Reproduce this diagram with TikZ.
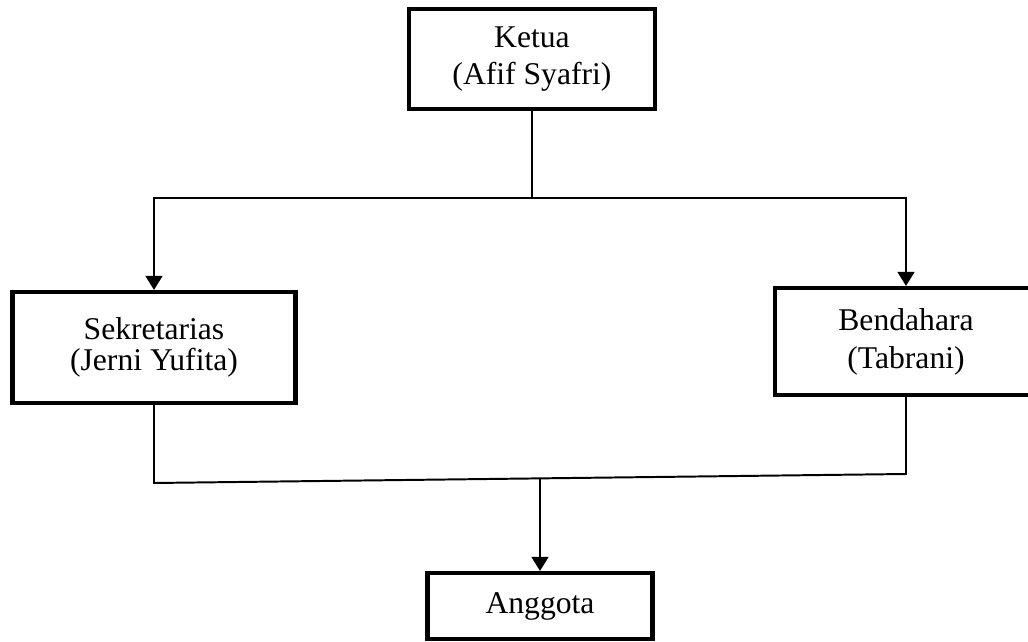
\documentclass[tikz,border=0pt]{standalone}
\usepackage{fontspec}
\setmainfont{Liberation Serif}
\usetikzlibrary{arrows.meta}

\begin{document}
\begin{tikzpicture}[x=0.025cm, y=-0.025cm,
    kotak/.style={draw, line width=2.9pt, rectangle, align=center,
        font=\fontsize{22.5}{26}\selectfont, inner sep=0pt},
    garis/.style={line width=1.4pt},
    panah/.style={garis, -{Triangle[length=0.35cm, width=0.42cm]}}] %struktur
            \useasboundingbox (0,0) rectangle (1028,642);

            \node[kotak, minimum width=6.15cm, minimum height=2.5cm] (ketua) at (532,59) {Ketua\\(Afif Syafri)};
            \node[kotak, minimum width=7.075cm, minimum height=2.775cm, font=\fontsize{22.5}{21.5}\selectfont] (sekretaris) at (154,347.5) {Sekretarias\\(Jerni Yufita)};
            \node[kotak, minimum width=6.55cm, minimum height=2.675cm, font=\fontsize{22.5}{27}\selectfont] (bendahara) at (906,341.5) {Bendahara\\(Tabrani)};
            \node[kotak, minimum width=5.625cm, minimum height=1.65cm] (anggota) at (540,606) {Anggota};

            \coordinate (cabang) at (532,198);
            \coordinate (kiri) at (154,483);
            \coordinate (kanan) at (906,474);
            \coordinate (tengah) at (540,478.4);

            \draw[garis] (ketua.south) -- (cabang);
            \draw[panah] (cabang) -| (sekretaris.north);
            \draw[panah] (cabang) -| (bendahara.north);
            \draw[garis] (sekretaris.south) -- (kiri) -- (kanan) -- (bendahara.south);
            \draw[panah] (tengah) -- (anggota.north);
        \end{tikzpicture}
\end{document}
